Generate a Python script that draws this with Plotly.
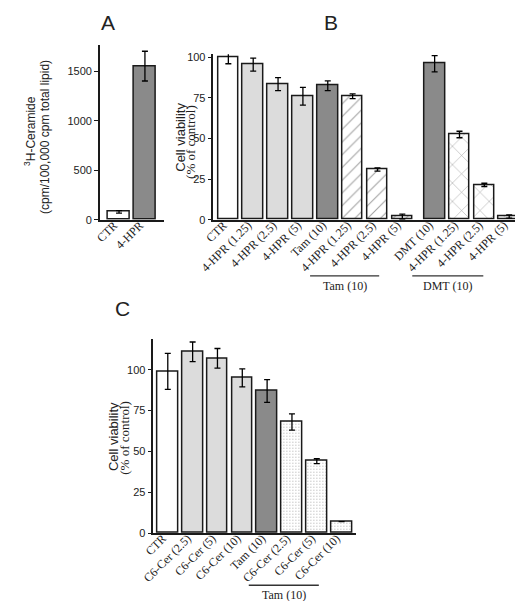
import plotly.graph_objects as go

# ---------------- data ----------------
A_labels = ["CTR", "4-HPR"]
A_values = [80, 1550]
A_errors = [12, 150]

B_labels = ["CTR", "4-HPR (1.25)", "4-HPR (2.5)", "4-HPR (5)",
            "Tam (10)", "4-HPR (1.25)", "4-HPR (2.5)", "4-HPR (5)",
            "DMT (10)", "4-HPR (1.25)", "4-HPR (2.5)", "4-HPR (5)"]
B_values = [100, 95.5, 83.5, 76, 82.5, 76, 31, 2, 96, 52.5, 21.5, 2]
B_errors = [4, 4, 4, 5.5, 3, 1.5, 1, 1.5, 5, 2, 1, 1]
B_group = [0, 0, 0, 0, 0, 0, 0, 0, 1, 1, 1, 1]
B_style = ["white", "light", "light", "light", "dark", "hatch", "hatch", "hatch",
           "dark", "cross", "cross", "cross"]

C_labels = ["CTR", "C6-Cer (2.5)", "C6-Cer (5)", "C6-Cer (10)",
            "Tam (10)", "C6-Cer (2.5)", "C6-Cer (5)", "C6-Cer (10)"]
C_values = [99, 111, 107, 95, 87, 68, 44, 7]
C_errors = [11, 6, 6, 5.5, 7, 5, 1.5, 0]
C_style = ["white", "light", "light", "light", "dark", "dots", "dots", "dots"]

# ---------------- styles ----------------
W, H = 523, 601
LIGHT = "#dcdcdc"
DARK = "#8a8a8a"
EDGE = "#1a1a1a"
SERIF = "Liberation Serif"
SANS = "Liberation Sans"

STY = {
    "white": dict(color="white", shape="", size=8, sol=0.2, fg="black"),
    "light": dict(color=LIGHT, shape="", size=8, sol=0.2, fg="black"),
    "dark": dict(color=DARK, shape="", size=8, sol=0.2, fg="black"),
    "hatch": dict(color="white", shape="/", size=9, sol=0.12, fg="#333333"),
    "cross": dict(color="white", shape="x", size=13, sol=0.08, fg="#333333"),
    "dots": dict(color="white", shape=".", size=3, sol=0.12, fg="#777777"),
}


def px_x(p):
    return p / W


def px_y(p):
    return 1 - p / H


def bar_trace(xs, vals, errs, styles, xa, ya, width):
    return go.Bar(
        x=xs, y=vals, xaxis=xa, yaxis=ya, width=width,
        marker=dict(
            color=[STY[s]["color"] for s in styles],
            line=dict(color=EDGE, width=1.5),
            pattern=dict(
                shape=[STY[s]["shape"] for s in styles],
                size=[STY[s]["size"] for s in styles],
                solidity=[STY[s]["sol"] for s in styles],
                fgcolor=[STY[s]["fg"] for s in styles],
                bgcolor=[STY[s]["color"] for s in styles],
                fillmode="overlay",
            ),
        ),
        error_y=dict(type="data", array=errs, visible=True,
                     color="black", thickness=1.3, width=3),
        showlegend=False, hoverinfo="skip",
    )


fig = go.Figure()

# Panel A
A_x = list(range(len(A_labels)))
fig.add_trace(bar_trace(A_x, A_values, A_errors, ["white", "dark"], "x", "y", 0.86))

# Panel B
B_x = [i + 0.3 * g for i, g in enumerate(B_group)]
fig.add_trace(bar_trace(B_x, B_values, B_errors, B_style, "x2", "y2", 0.83))

# Panel C
C_x = list(range(len(C_labels)))
fig.add_trace(bar_trace(C_x, C_values, C_errors, C_style, "x3", "y3", 0.83))

axis_common = dict(showline=True, linecolor=EDGE, linewidth=1.5, showgrid=False,
                   zeroline=False, mirror=False)
xtick_font = dict(family=SERIF, size=12, color="#222")
ytick_font = dict(family=SANS, size=11, color="#222")
xlab = dict(tickangle=-45, ticks="", tickfont=xtick_font,
            ticklabelstandoff=-8, ticklabelshift=-5)

fig.update_layout(
    width=W, height=H,
    margin=dict(l=0, r=0, t=0, b=0),
    paper_bgcolor="white", plot_bgcolor="white",
    bargap=0,
    xaxis=dict(domain=[px_x(80), px_x(146)], range=[-0.74, 1.74],
               tickvals=A_x, ticktext=A_labels, anchor="y", **xlab, **axis_common),
    yaxis=dict(domain=[px_y(212), px_y(35)], range=[0, 1758],
               tickvals=[0, 500, 1000, 1500], ticks="outside", ticklen=4,
               tickcolor=EDGE, tickfont=ytick_font, anchor="x", **axis_common),
    xaxis2=dict(domain=[px_x(196.7), px_x(520)], range=[-0.6, 12.06],
                tickvals=B_x, ticktext=B_labels, anchor="y2", **xlab, **axis_common),
    yaxis2=dict(domain=[px_y(212), px_y(44)], range=[0, 101.8],
                tickvals=[0, 25, 50, 75, 100], ticks="outside", ticklen=4,
                tickcolor=EDGE, tickfont=ytick_font, anchor="x2", **axis_common),
    xaxis3=dict(domain=[px_x(135), px_x(342.7)], range=[-0.58, 7.56],
                tickvals=C_x, ticktext=C_labels, anchor="y3", **xlab, **axis_common),
    yaxis3=dict(domain=[px_y(530), px_y(332.7)], range=[0, 119],
                tickvals=[0, 25, 50, 75, 100], ticks="outside", ticklen=4,
                tickcolor=EDGE, tickfont=ytick_font, anchor="x3", **axis_common),
)

ann = []
# panel letters
for letter, (lx, ly) in {"A": (88, 12), "B": (318, 12), "C": (103, 302)}.items():
    ann.append(dict(text=letter, x=px_x(lx), y=px_y(ly), xref="paper", yref="paper",
                    showarrow=False, font=dict(family=SANS, size=21, color="#222"),
                    xanchor="center", yanchor="middle"))

# y-axis titles (one annotation per line)
titles = [
    ("<sup>3</sup>H-Ceramide", SANS, 12, 8, 122),
    ("(cpm/100,000 cpm total lipid)", SANS, 12, 23, 127.5),
    ("Cell viability", SANS, 13, 162, 128),
    ("(% of control)", SERIF, 13, 172.5, 133),
    ("Cell viability", SANS, 13, 94, 432),
    ("(% of control)", SERIF, 13, 105, 433),
]
for txt, fam, sz, tx, ty in titles:
    ann.append(dict(text=txt, x=px_x(tx), y=px_y(ty), xref="paper",
                    yref="paper", textangle=-90, showarrow=False,
                    font=dict(family=fam, size=sz, color="#222"),
                    xanchor="center", yanchor="middle"))

# group labels
groups = [("Tam (10)", 296, 367, 269), ("DMT (10)", 401, 474, 269),
          ("Tam (10)", 233, 305, 583)]
shapes = []
for txt, x0, x1, yl in groups:
    shapes.append(dict(type="line", xref="paper", yref="paper",
                       x0=px_x(x0), x1=px_x(x1), y0=px_y(yl), y1=px_y(yl),
                       line=dict(color="#333", width=1.3)))
    ann.append(dict(text=txt, x=px_x((x0 + x1) / 2), y=px_y(yl + 10), xref="paper",
                    yref="paper", showarrow=False,
                    font=dict(family=SERIF, size=12, color="#222"),
                    xanchor="center", yanchor="middle"))

fig.update_layout(annotations=ann, shapes=shapes)

fig.write_html("out.html")
